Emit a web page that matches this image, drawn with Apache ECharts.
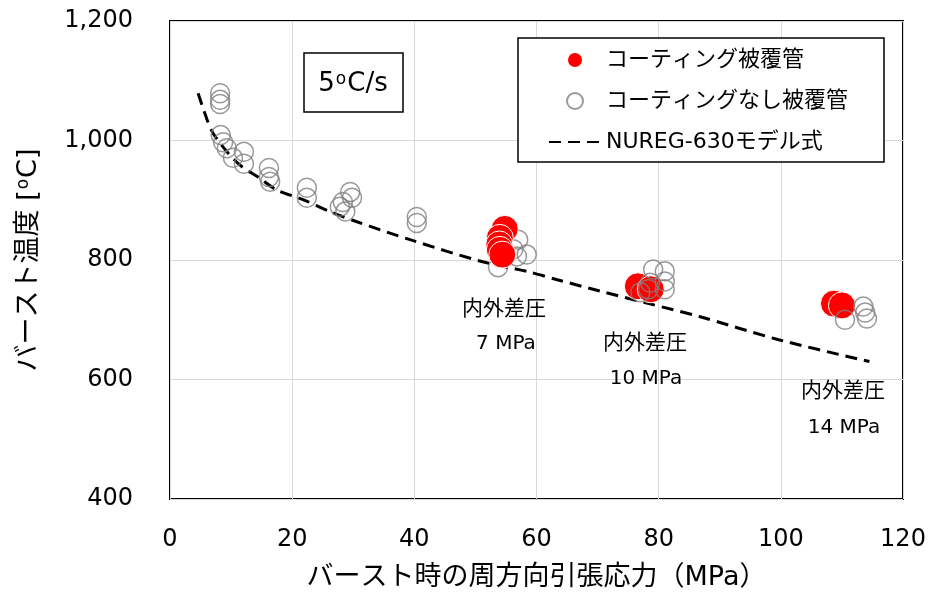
<!DOCTYPE html>
<html>
<head>
<meta charset="utf-8">
<script src="https://cdn.jsdelivr.net/npm/echarts@6/dist/echarts.min.js"></script>
<style>
html,body{margin:0;padding:0;background:#fff;}
#c{width:931px;height:596px;}
</style>
</head>
<body>
<div id="c"></div>
<script>
// ---- data (stress MPa, burst temperature °C) ----
var coated = [
  [54.8, 852], [54.0, 837], [53.9, 826], [54.0, 817], [54.4, 809],
  [76.6, 756], [78.7, 751],
  [108.7, 727], [110.0, 724]
];
// uncoated points drawn below the coated markers (7 MPa group)
var uncoatedBelow = [
  [57.0, 834], [58.4, 809], [56.8, 806], [53.7, 788], [56.2, 818]
];
// other uncoated points (drawn on top)
var uncoatedAbove = [
  [8.2, 1079], [8.2, 1068], [8.2, 1061],
  [8.3, 1009], [8.7, 997], [9.3, 987], [10.3, 971], [12.1, 981], [12.1, 961],
  [16.2, 954], [16.2, 939], [16.4, 931],
  [22.4, 921], [22.4, 904],
  [29.5, 914], [29.8, 904], [28.3, 897], [27.8, 889], [28.7, 881],
  [40.4, 872], [40.4, 862],
  [79.1, 784], [81.0, 781], [81.0, 764], [81.0, 751], [78.6, 762], [78.3, 751], [77.0, 746],
  [110.5, 700], [113.5, 722], [113.8, 712], [114.1, 702]
];
var nureg = [
  [4.6, 1079], [6.1, 1034], [7.0, 1013], [9.5, 979], [11.8, 956], [14.4, 939],
  [17.5, 917], [21.8, 901], [26.2, 881], [30.6, 864], [39.3, 834], [51.2, 797],
  [58.4, 781], [63.4, 767], [70.4, 748], [78.4, 727], [86.8, 705], [99.5, 667], [114.5, 630]
];
var xTicks = {min: 0, max: 120, interval: 20};
var yTicks = {min: 400, max: 1200, interval: 200};
var seriesNames = ['コーティング被覆管', 'コーティングなし被覆管', 'NUREG-630モデル式'];
var annotations = [
  ['内外差圧', '7 MPa'],
  ['内外差圧', '10 MPa'],
  ['内外差圧', '14 MPa']
];

var FONT = '"DejaVu Sans", "Noto Sans CJK JP", sans-serif';
var chart = echarts.init(document.getElementById('c'), null, {renderer: 'canvas'});

var annPos = [[504, 310, 506, 344], [645, 344, 646, 379], [843, 392, 844, 428]];
var graphics = [];
annotations.forEach(function (a, i) {
  var p = annPos[i];
  graphics.push({type: 'text', x: p[0], y: p[1], style: {text: a[0], align: 'center', verticalAlign: 'middle', fontSize: 21, fontFamily: FONT, fill: '#000'}, z: 50});
  graphics.push({type: 'text', x: p[2], y: p[3], style: {text: a[1], align: 'center', verticalAlign: 'middle', fontSize: 20, fontFamily: FONT, fill: '#000'}, z: 50});
});
// heating-rate box
graphics.push({type: 'rect', x: 304, y: 53, shape: {x: 0, y: 0, width: 99, height: 59}, style: {fill: '#fff', stroke: '#000', lineWidth: 1.5}, z: 40});
graphics.push({type: 'text', x: 353, y: 84, z: 41, style: {
  text: '{a|5}{s|o}{a|C/s}', align: 'center', verticalAlign: 'middle',
  rich: {a: {fontSize: 26, fontFamily: FONT, color: '#000'}, s: {fontSize: 17, fontFamily: FONT, color: '#000', verticalAlign: 'top', padding: [0, 1, 8, 1]}}
}});

var option = {
  animation: false,
  backgroundColor: '#fff',
  grid: {left: 170, right: 28, top: 21, bottom: 96, show: true, borderColor: '#000', borderWidth: 2, backgroundColor: 'transparent'},
  legend: {
    orient: 'vertical', left: 518, top: 38,
    data: [
      {name: seriesNames[0]},
      {name: seriesNames[1]},
      {name: seriesNames[2], itemStyle: {opacity: 0, color: 'rgba(0,0,0,0)', borderWidth: 0}}
    ],
    backgroundColor: '#fff', borderColor: '#000', borderWidth: 1.5,
    padding: [11, 36, 9, 30],
    itemWidth: 52, itemHeight: 16, itemGap: 19,
    textStyle: {fontSize: 22, fontFamily: FONT, color: '#000'},
    z: 30
  },
  xAxis: {
    type: 'value', min: xTicks.min, max: xTicks.max, interval: xTicks.interval,
    name: 'バースト時の周方向引張応力（MPa）', nameLocation: 'middle', nameGap: 65,
    nameTextStyle: {fontSize: 27, fontFamily: FONT, color: '#000'},
    axisLine: {show: false}, axisTick: {show: false},
    axisLabel: {fontSize: 24, fontFamily: FONT, color: '#000', margin: 29},
    splitLine: {show: true, lineStyle: {color: '#d9d9d9', width: 1}}
  },
  yAxis: {
    type: 'value', min: yTicks.min, max: yTicks.max, interval: yTicks.interval,
    name: '{a|バースト温度 [}{s|o}{a|C]}', nameLocation: 'middle', nameGap: 128, nameRotate: 90,
    nameTextStyle: {fontSize: 27, fontFamily: FONT, color: '#000',
      rich: {a: {fontSize: 27, fontFamily: FONT, color: '#000'}, s: {fontSize: 17, fontFamily: FONT, color: '#000', verticalAlign: 'top', padding: [0, 1, 8, 1]}}},
    axisLine: {show: false}, axisTick: {show: false},
    axisLabel: {fontSize: 24, fontFamily: FONT, color: '#000', margin: 37,
      formatter: function (v) { return v.toLocaleString('en-US'); }},
    splitLine: {show: true, lineStyle: {color: '#d9d9d9', width: 1}}
  },
  graphic: graphics,
  series: [
    {
      name: seriesNames[1], type: 'scatter', data: uncoatedBelow, symbol: 'circle', symbolSize: 19, z: 2,
      itemStyle: {color: 'rgba(255,255,255,0)', borderColor: '#7f7f7f', borderWidth: 1.5}
    },
    {
      name: seriesNames[2], type: 'line', data: nureg, symbol: 'none', showSymbol: false, smooth: 0.3, z: 3,
      lineStyle: {color: '#000', width: 3, type: [12, 7]},
      itemStyle: {color: '#000'}
    },
    {
      name: seriesNames[0], type: 'scatter', data: coated, symbol: 'circle', symbolSize: 27, z: 4,
      itemStyle: {color: '#ff0000', borderColor: '#ffffff', borderWidth: 1, opacity: 1}
    },
    {
      name: seriesNames[1], type: 'scatter', data: uncoatedAbove, symbol: 'circle', symbolSize: 19, z: 5,
      itemStyle: {color: 'rgba(255,255,255,0)', borderColor: '#7f7f7f', borderWidth: 1.5}
    }
  ]
};
chart.setOption(option);
</script>
</body>
</html>
